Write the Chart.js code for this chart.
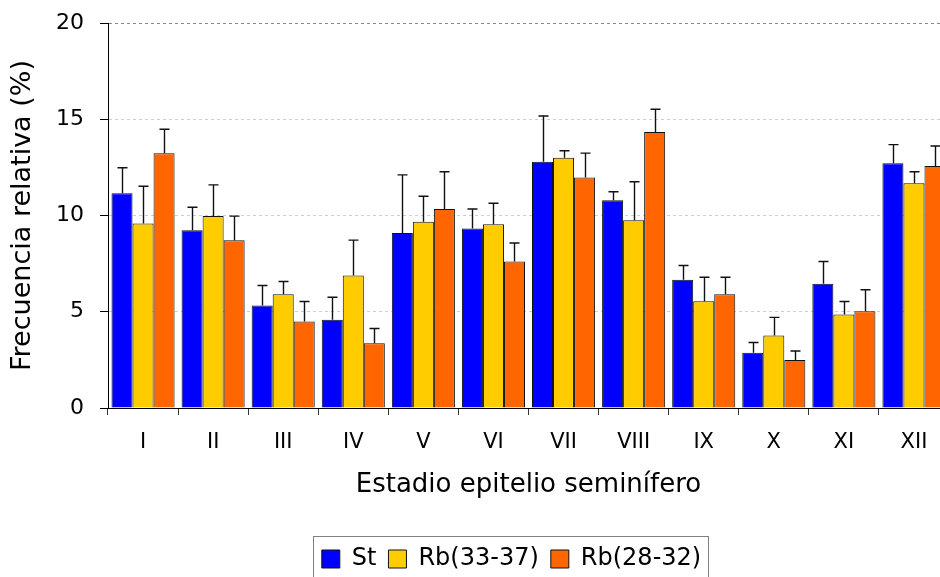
<!DOCTYPE html>
<html>
<head>
<meta charset="utf-8">
<script src="https://cdn.jsdelivr.net/npm/chart.js@4/dist/chart.umd.min.js"></script>
<style>
  html, body { margin: 0; padding: 0; background: #fff; }
  #wrap { width: 940px; height: 577px; overflow: hidden; position: relative; }
  canvas { display: block; }
</style>
</head>
<body>
<div id="wrap"><canvas id="c" width="960" height="600"></canvas></div>
<script>
// Seminiferous epithelium stages
const stages = ['I', 'II', 'III', 'IV', 'V', 'VI', 'VII', 'VIII', 'IX', 'X', 'XI', 'XII'];

// Mean relative frequency (%) per stage
const stMean     = [11.16, 9.23, 5.32, 4.59, 9.09, 9.32, 12.79, 10.79, 6.66, 2.87, 6.45, 12.72];
const rb3337Mean = [9.59, 9.97, 5.91, 6.88, 9.68, 9.54, 13.00, 9.75, 5.54, 3.77, 4.86, 11.68];
const rb2832Mean = [13.23, 8.71, 4.50, 3.37, 10.34, 7.61, 11.98, 14.34, 5.91, 2.50, 5.02, 12.57];

// Standard deviation (upper error bar)
const stErr     = [1.32, 1.20, 1.04, 1.16, 3.02, 1.02, 2.38, 0.44, 0.74, 0.53, 1.16, 0.96];
const rb3337Err = [1.93, 1.62, 0.66, 1.84, 1.32, 1.10, 0.36, 2.00, 1.25, 0.94, 0.67, 0.59];
const rb2832Err = [1.25, 1.26, 1.03, 0.76, 1.93, 0.96, 1.26, 1.18, 0.88, 0.46, 1.12, 1.04];

// Y axis ticks
const yTicks = [0, 5, 10, 15, 20];

const seriesNames = ['St', 'Rb(33-37)', 'Rb(28-32)'];

Chart.defaults.font.family = "'DejaVu Sans', sans-serif";
Chart.defaults.color = '#000';

const LEGEND_PAD = 12;

// Upper-only error bars with a small cap
const errorBars = {
  id: 'errorBars',
  afterDatasetsDraw(chart) {
    const ctx = chart.ctx;
    const y = chart.scales.y;
    ctx.save();
    ctx.strokeStyle = '#111';
    ctx.lineWidth = 1.4;
    chart.data.datasets.forEach((ds, di) => {
      const meta = chart.getDatasetMeta(di);
      meta.data.forEach((bar, i) => {
        const top = y.getPixelForValue(ds.data[i] + ds.errors[i]);
        const x = Math.round(bar.x) + 0.5;
        ctx.beginPath();
        ctx.moveTo(x, bar.y);
        ctx.lineTo(x, top);
        ctx.moveTo(x - 5, top);
        ctx.lineTo(x + 5, top);
        ctx.stroke();
      });
    });
    ctx.restore();
  }
};

// Legend placement and its frame
const legendFrame = {
  id: 'legendFrame',
  afterLayout(chart) {
    const lg = chart.legend;
    lg.left += 37;
    lg.right += 37;
  },
  afterDraw(chart) {
    const lg = chart.legend;
    const w = lg.lineWidths[0];
    const cx = (lg.left + lg.right) / 2;
    const ctx = chart.ctx;
    ctx.save();
    ctx.strokeStyle = '#808080';
    ctx.lineWidth = 1;
    const x0 = Math.round(cx - w / 2 + LEGEND_PAD / 2 - 9) + 0.5;
    const x1 = Math.round(cx + w / 2 - LEGEND_PAD / 2 + 7) + 0.5;
    const y0 = 536.5;
    ctx.strokeRect(x0, y0, x1 - x0, 80);
    ctx.restore();
  }
};

new Chart(document.getElementById('c'), {
  type: 'bar',
  data: {
    labels: stages,
    datasets: [
      { label: seriesNames[0], data: stMean, errors: stErr, backgroundColor: '#0000FF' },
      { label: seriesNames[1], data: rb3337Mean, errors: rb3337Err, backgroundColor: '#FFCC00' },
      { label: seriesNames[2], data: rb2832Mean, errors: rb2832Err, backgroundColor: '#FF6600' }
    ].map(d => Object.assign(d, {
      borderColor: '#111',
      borderWidth: 1,
      categoryPercentage: 0.9,
      barPercentage: 1.0
    }))
  },
  options: {
    responsive: false,
    devicePixelRatio: 1,
    animation: false,
    layout: { padding: { top: 23, right: 11, left: 0, bottom: 19 } },
    plugins: {
      tooltip: { enabled: false },
      legend: {
        position: 'bottom',
        labels: {
          boxWidth: 18,
          boxHeight: 18,
          padding: LEGEND_PAD,
          font: { size: 24 },
          color: '#000'
        }
      }
    },
    scales: {
      x: {
        afterFit(s) { s.height = 127; s.paddingLeft = 0; s.paddingRight = 0; },
        grid: {
          display: true,
          drawOnChartArea: false,
          drawTicks: true,
          tickLength: 7,
          tickColor: '#333',
          offset: true
        },
        border: { display: true, color: '#000', width: 1 },
        ticks: { font: { size: 21 }, padding: 15, maxRotation: 0, color: '#000' },
        title: {
          display: true,
          text: 'Estadio epitelio seminífero',
          font: { size: 26 },
          color: '#000',
          padding: { top: 0, bottom: 34 }
        }
      },
      y: {
        min: 0,
        max: 20,
        afterFit(s) { s.width = 108; s.paddingTop = 0; s.paddingBottom = 0; },
        afterBuildTicks(s) { s.ticks = yTicks.map(v => ({ value: v })); },
        grid: {
          drawOnChartArea: true,
          drawTicks: true,
          tickLength: 8,
          tickColor: '#000',
          color: c => c.tick && c.tick.value === 20 ? '#888' : (c.tick && c.tick.value === 0 ? 'rgba(0,0,0,0)' : '#cfcfcf')
        },
        border: { display: true, color: '#000', width: 1, dash: [3, 3] },
        ticks: { font: { size: 22 }, padding: 16, color: '#000' },
        title: {
          display: true,
          text: 'Frecuencia relativa (%)',
          font: { size: 27 },
          color: '#000',
          padding: { top: 7, bottom: 0 }
        }
      }
    }
  },
  plugins: [errorBars, legendFrame]
});
</script>
</body>
</html>
